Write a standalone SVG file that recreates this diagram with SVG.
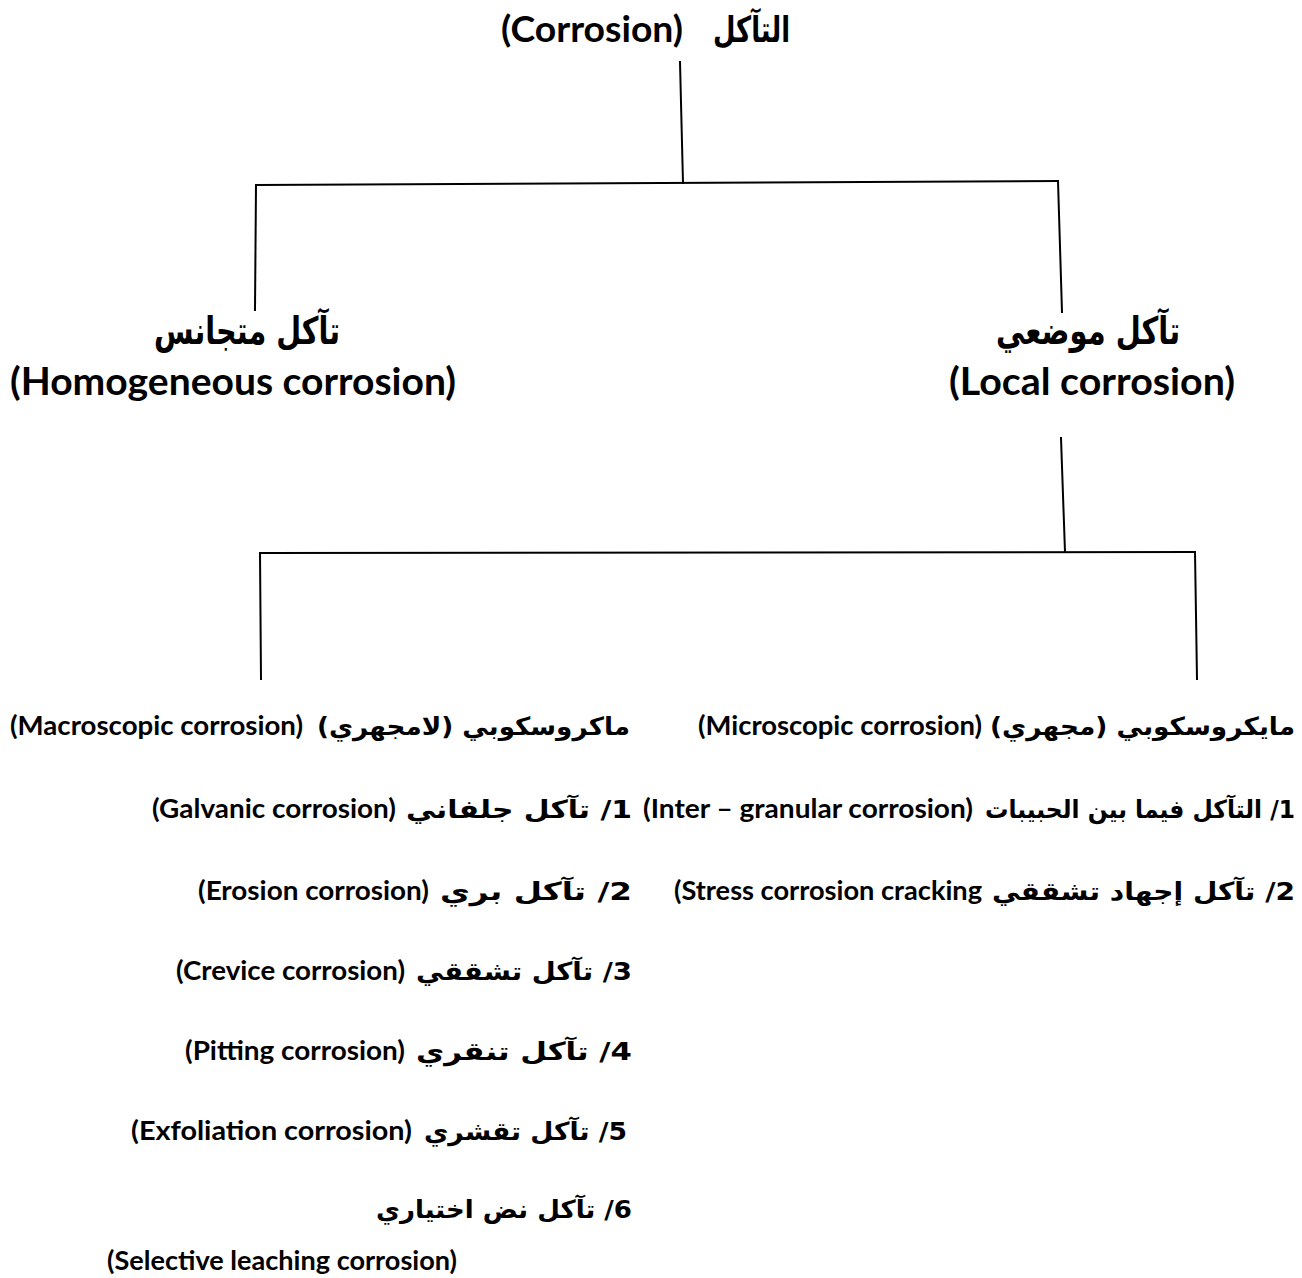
<svg xmlns="http://www.w3.org/2000/svg" width="1302" height="1278" viewBox="0 0 1302 1278">
<style>
.en{font-family:Lato,"Open Sans","Liberation Sans",sans-serif;font-weight:700;fill:#000}
.ar{font-family:"DejaVu Sans","Noto Sans",sans-serif;font-weight:700;fill:#000;direction:rtl}
.t1{font-size:36px}
.t2{font-size:38px}
.ta{font-size:38px}
.r{font-size:27px}
.ra{font-size:25px}
.ln{stroke:#000;stroke-width:2;fill:none;stroke-linecap:square}
</style>
<rect width="1302" height="1278" fill="#fff"/>
<g id="connectors">
<path class="ln" d="M680,62 L683,183"/>
<path class="ln" d="M256,185 L1058,181"/>
<path class="ln" d="M256,185 L255,310"/>
<path class="ln" d="M1058,181 L1062,312"/>
<path class="ln" d="M1061,438 L1065,552"/>
<path class="ln" d="M260,553 L1195,552"/>
<path class="ln" d="M260,553 L261,679"/>
<path class="ln" d="M1195,552 L1197,679"/>
</g>
<g id="root">
<text class="en t1" x="501" y="42" textLength="182" lengthAdjust="spacingAndGlyphs">(Corrosion)</text>
<text class="ar t1" x="790" y="42" text-anchor="start" textLength="77" lengthAdjust="spacingAndGlyphs">التآكل</text>
</g>
<g id="homogeneous">
<text class="ar ta" x="340" y="344" text-anchor="start" textLength="186" lengthAdjust="spacingAndGlyphs">تآكل متجانس</text>
<text class="en t2" x="10" y="395" textLength="446" lengthAdjust="spacingAndGlyphs">(Homogeneous corrosion)</text>
</g>
<g id="local">
<text class="ar ta" x="1180" y="344" text-anchor="start" textLength="184" lengthAdjust="spacingAndGlyphs">تآكل موضعي</text>
<text class="en t2" x="949" y="395" textLength="286" lengthAdjust="spacingAndGlyphs">(Local corrosion)</text>
</g>
<g id="macroscopic">
<text class="ar ra" x="630" y="735" text-anchor="start" textLength="313" lengthAdjust="spacingAndGlyphs">ماكروسكوبي (لامجهري)</text>
<text class="en r" x="10" y="735" textLength="293" lengthAdjust="spacingAndGlyphs">(Macroscopic corrosion)</text>
</g>
<g id="galvanic">
<text class="ar ra" x="632" y="818" text-anchor="start" textLength="226" lengthAdjust="spacingAndGlyphs">1/ تآكل جلفاني</text>
<text class="en r" x="152" y="818" textLength="244" lengthAdjust="spacingAndGlyphs">(Galvanic corrosion)</text>
</g>
<g id="erosion">
<text class="ar ra" x="632" y="900" text-anchor="start" textLength="192" lengthAdjust="spacingAndGlyphs">2/ تآكل بري</text>
<text class="en r" x="198" y="900" textLength="231" lengthAdjust="spacingAndGlyphs">(Erosion corrosion)</text>
</g>
<g id="crevice">
<text class="ar ra" x="632" y="980" text-anchor="start" textLength="216" lengthAdjust="spacingAndGlyphs">3/ تآكل تشققي</text>
<text class="en r" x="176" y="980" textLength="229" lengthAdjust="spacingAndGlyphs">(Crevice corrosion)</text>
</g>
<g id="pitting">
<text class="ar ra" x="632" y="1060" text-anchor="start" textLength="216" lengthAdjust="spacingAndGlyphs">4/ تآكل تنقري</text>
<text class="en r" x="185" y="1060" textLength="220" lengthAdjust="spacingAndGlyphs">(Pitting corrosion)</text>
</g>
<g id="exfoliation">
<text class="ar ra" x="627" y="1140" text-anchor="start" textLength="203" lengthAdjust="spacingAndGlyphs">5/ تآكل تقشري</text>
<text class="en r" x="131" y="1140" textLength="281" lengthAdjust="spacingAndGlyphs">(Exfoliation corrosion)</text>
</g>
<g id="selective">
<text class="ar ra" x="632" y="1218" text-anchor="start" textLength="256" lengthAdjust="spacingAndGlyphs">6/ تآكل نض اختياري</text>
<text class="en r" x="107" y="1270" textLength="350" lengthAdjust="spacingAndGlyphs">(Selective leaching corrosion)</text>
</g>
<g id="microscopic">
<text class="ar ra" x="1295" y="735" text-anchor="start" textLength="305" lengthAdjust="spacingAndGlyphs">مايكروسكوبي (مجهري)</text>
<text class="en r" x="698" y="735" textLength="284" lengthAdjust="spacingAndGlyphs">(Microscopic corrosion)</text>
</g>
<g id="intergranular">
<text class="ar ra" x="1295" y="818" text-anchor="start" textLength="310" lengthAdjust="spacingAndGlyphs">1/ التآكل فيما بين الحبيبات</text>
<text class="en r" x="643" y="818" textLength="330" lengthAdjust="spacingAndGlyphs">(Inter – granular corrosion)</text>
</g>
<g id="stress">
<text class="ar ra" x="1295" y="900" text-anchor="start" textLength="303" lengthAdjust="spacingAndGlyphs">2/ تآكل إجهاد تشققي</text>
<text class="en r" x="674" y="900" textLength="308" lengthAdjust="spacingAndGlyphs">(Stress corrosion cracking</text>
</g>
</svg>
